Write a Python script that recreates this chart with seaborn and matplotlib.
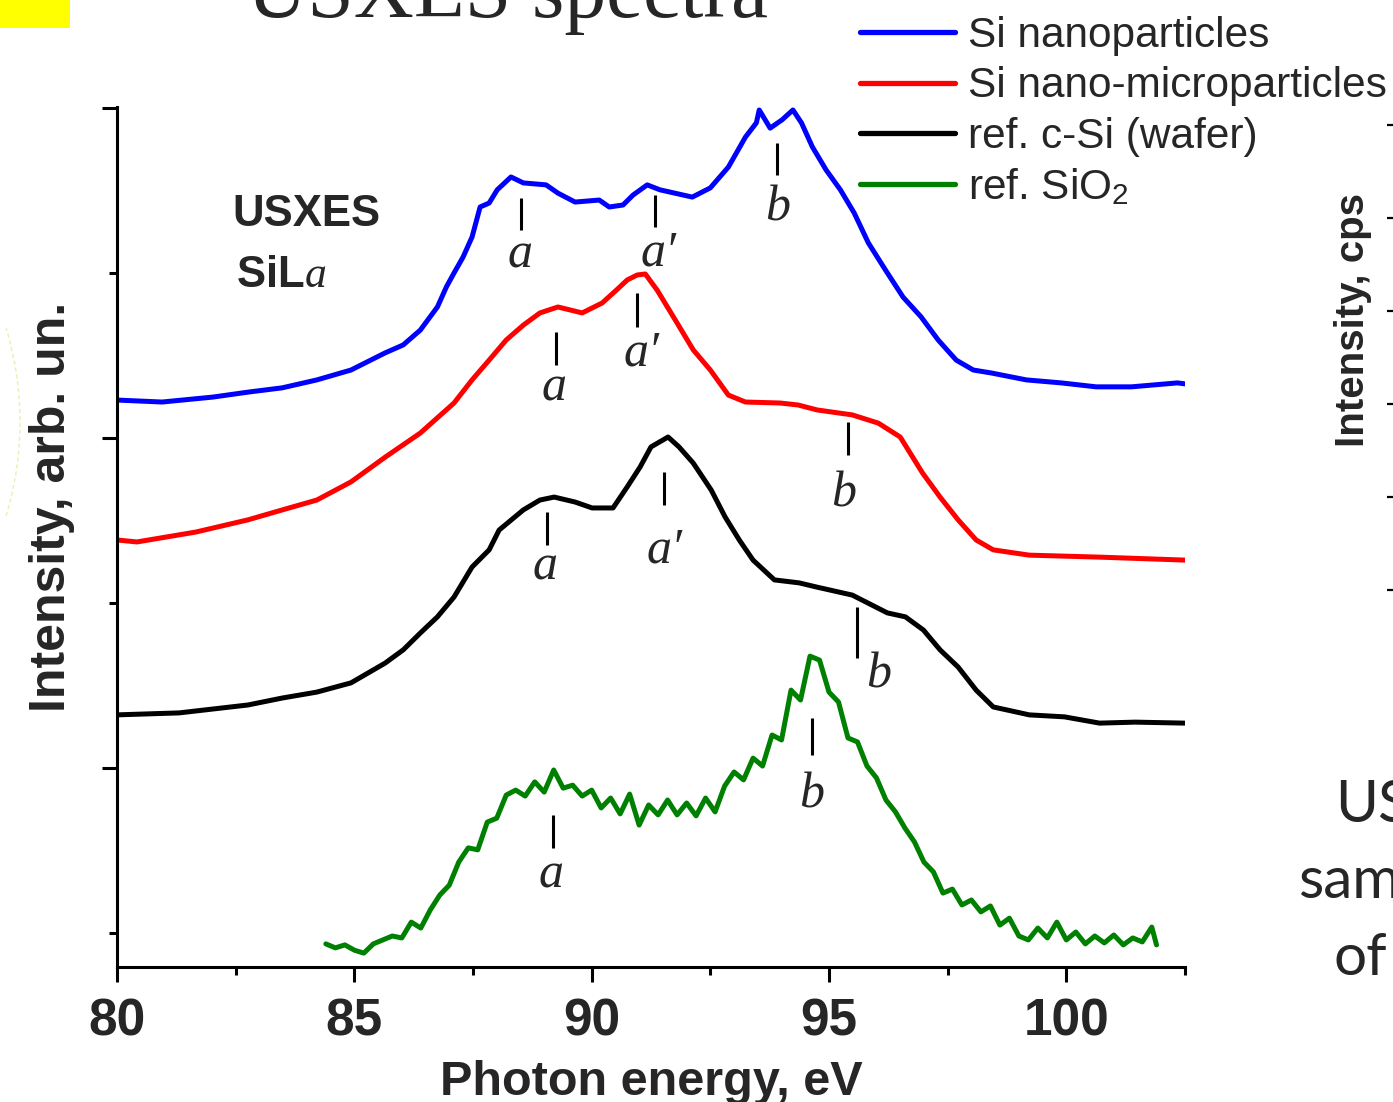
import matplotlib
matplotlib.use("Agg")
import matplotlib.pyplot as plt
from matplotlib.patches import Rectangle, Arc
from matplotlib.lines import Line2D
import numpy as np
import pandas as pd
import seaborn as sns

# ---------------- data ----------------
names = ["Si nanoparticles", "Si nano-microparticles", "ref. c-Si (wafer)", r"ref. SiO$_\mathregular{2}$"]
colors = ["#0000ff", "#ff0000", "#000000", "#008000"]

nano_x = [80.00, 80.95, 82.02, 82.76, 83.48, 84.21, 84.93, 85.65, 86.03, 86.39, 86.75, 86.94, 87.10, 87.29,
          87.48, 87.65, 87.84, 88.01, 88.30, 88.56, 89.04, 89.29, 89.65, 90.16, 90.37, 90.66, 90.87, 91.17,
          91.44, 92.12, 92.50, 92.88, 93.24, 93.47, 93.53, 93.76, 94.01, 94.24, 94.42, 94.65, 94.94, 95.24,
          95.53, 95.83, 96.19, 96.56, 96.94, 97.30, 97.68, 98.04, 98.42, 99.16, 99.89, 100.63, 101.37, 102.34, 102.5]
nano_y = [211.5, 210.9, 212.4, 213.9, 215.2, 217.6, 220.6, 225.8, 228.2, 232.7, 239.7, 245.8, 250.0, 254.8,
          260.9, 270.0, 271.2, 275.2, 279.1, 277.3, 276.7, 274.2, 271.5, 272.1, 270.0, 270.6, 273.6, 276.7,
          275.2, 273.0, 275.8, 282.1, 291.2, 295.5, 299.4, 293.9, 296.4, 299.4, 295.5, 288.2, 281.2, 275.2,
          268.2, 259.1, 250.9, 242.7, 236.7, 229.7, 223.6, 220.6, 219.7, 217.6, 216.7, 215.5, 215.5, 216.7, 216.4]

micro_x = [80.00, 80.42, 81.66, 82.76, 83.48, 84.21, 84.93, 85.65, 86.39, 87.10, 87.48, 87.84, 88.20, 88.56,
           88.91, 89.29, 89.80, 90.22, 90.52, 90.75, 90.96, 91.13, 91.38, 91.76, 92.14, 92.50, 92.88, 93.24,
           93.97, 94.35, 94.75, 95.49, 96.04, 96.50, 96.97, 97.34, 97.72, 98.10, 98.46, 99.22, 100.70, 102.5]
micro_y = [169.1, 168.5, 171.5, 175.2, 178.2, 181.2, 186.7, 194.2, 201.5, 210.6, 217.6, 223.6, 229.7, 234.2,
           237.9, 239.7, 237.9, 240.9, 244.8, 247.9, 249.4, 249.7, 244.8, 235.8, 226.7, 220.6, 213.0, 210.9,
           210.6, 210.0, 208.5, 207.0, 204.5, 200.3, 189.4, 182.1, 175.2, 169.1, 166.1, 164.5, 163.9, 163.0]

wafer_x = [80.00, 81.31, 82.76, 83.48, 84.21, 84.93, 85.65, 86.03, 86.39, 86.75, 87.10, 87.48, 87.84, 88.05,
           88.56, 88.91, 89.21, 89.65, 90.01, 90.45, 90.75, 91.02, 91.25, 91.61, 91.84, 92.14, 92.52, 92.81,
           93.11, 93.40, 93.85, 94.37, 94.75, 95.49, 96.23, 96.61, 96.99, 97.34, 97.72, 98.10, 98.46, 99.22,
           99.96, 100.70, 101.45, 102.5]
wafer_y = [116.1, 116.7, 119.1, 121.2, 123.0, 125.8, 131.8, 135.8, 140.9, 145.8, 151.8, 160.9, 166.1, 172.1,
           178.2, 181.2, 182.1, 180.6, 178.8, 178.8, 185.2, 191.2, 197.3, 200.3, 197.3, 192.4, 184.2, 176.1,
           169.1, 163.0, 157.0, 156.1, 154.8, 152.4, 147.0, 145.8, 141.8, 135.8, 130.6, 123.6, 118.5, 116.1,
           115.5, 113.6, 113.9, 113.6]

sio2_x = [84.4, 84.6, 84.8, 85.0, 85.2, 85.4, 85.6, 85.8, 86.0, 86.2, 86.4, 86.6, 86.8, 87.0, 87.2, 87.4,
          87.6, 87.8, 88.0, 88.2, 88.4, 88.6, 88.8, 89.0, 89.2, 89.4, 89.6, 89.8, 90.0, 90.2, 90.4, 90.6,
          90.8, 91.0, 91.2, 91.4, 91.6, 91.8, 92.0, 92.2, 92.4, 92.6, 92.8, 93.0, 93.2, 93.4, 93.6, 93.8,
          94.0, 94.2, 94.4, 94.6, 94.8, 95.0, 95.2, 95.4, 95.6, 95.8, 96.0, 96.2, 96.4, 96.6, 96.8, 97.0,
          97.2, 97.4, 97.6, 97.8, 98.0, 98.2, 98.4, 98.6, 98.8, 99.0, 99.2, 99.4, 99.6, 99.8, 100.0, 100.2,
          100.4, 100.6, 100.8, 101.0, 101.2, 101.4, 101.6, 101.8, 101.9]
sio2_y = [46.7, 45.5, 46.4, 44.8, 43.9, 46.7, 47.9, 49.1, 48.5, 53.3, 51.5, 57.0, 61.5, 64.5, 71.5, 75.8,
          75.2, 83.6, 84.8, 91.8, 93.3, 91.5, 95.8, 92.7, 99.4, 93.9, 94.8, 91.5, 93.3, 87.9, 90.9, 86.1,
          92.1, 82.7, 88.8, 85.8, 90.3, 85.8, 89.4, 85.5, 90.9, 86.7, 94.5, 98.8, 96.4, 103.0, 100.6, 110.0,
          108.5, 123.6, 120.6, 133.9, 132.7, 123.0, 120.0, 109.1, 107.9, 100.6, 97.0, 90.3, 86.7, 81.8, 77.6, 71.5,
          68.5, 62.1, 63.3, 58.5, 60.0, 56.4, 58.2, 52.4, 54.5, 49.1, 47.9, 51.5, 48.5, 53.3, 47.9, 50.3,
          46.7, 49.1, 47.0, 49.4, 46.4, 48.5, 47.3, 51.8, 46.4]

# feature markers: energy, bar top, bar bottom, label x, label baseline, label
mark_x = [88.52, 91.34, 93.91, 89.25, 90.96, 95.41, 89.06, 91.53, 95.60, 89.19, 94.65]
mark_top = [272.7, 273.6, 289.4, 232.1, 243.9, 204.8, 177.6, 189.7, 148.8, 85.8, 115.2]
mark_bot = [263.0, 263.9, 279.7, 222.1, 233.6, 194.8, 167.6, 179.7, 133.3, 75.8, 103.9]
lab_x = [88.49, 91.40, 93.91, 89.21, 91.06, 95.30, 89.02, 91.53, 96.04, 89.15, 94.63]
lab_y = [251.8, 252.4, 265.8, 211.5, 222.1, 179.1, 157.0, 162.4, 124.5, 63.9, 87.9]
lab_t = ["a", "a\u2032", "b", "a", "a\u2032", "b", "a", "a\u2032", "b", "a", "b"]

xticks_major = [80, 85, 90, 95, 100]
xticks_minor = [82.5, 87.5, 92.5, 97.5, 102.5]
yticks_major = [100, 200, 300]
yticks_minor = [50, 150, 250]

# ---------------- figure ----------------
sns.set_style("ticks")
plt.rcParams["font.family"] = ["Liberation Sans", "DejaVu Sans"]
plt.rcParams["mathtext.fontset"] = "custom"
plt.rcParams["mathtext.it"] = "Liberation Serif:italic"
plt.rcParams["mathtext.rm"] = "Liberation Sans"

W, H = 1393, 1102
fig = plt.figure(figsize=(W / 100, H / 100), dpi=100)
fig.patch.set_facecolor("white")

ax = fig.add_axes([117 / W, 135 / H, 1068 / W, 860 / H])
ax.set_facecolor("white")

frames = []
for nm, xs, ys in zip(names, [nano_x, micro_x, wafer_x, sio2_x], [nano_y, micro_y, wafer_y, sio2_y]):
    frames.append(pd.DataFrame({"energy": xs, "intensity": ys, "sample": nm}))
df = pd.concat(frames, ignore_index=True)

sns.lineplot(data=df, x="energy", y="intensity", hue="sample", hue_order=names,
             palette=colors, estimator=None, sort=False, lw=3.6, legend=False, ax=ax)

ax.set_xlim(80, 102.5)
ax.set_ylim(39.7, 300.3)
ax.set_xticks(xticks_major)
ax.set_xticks(xticks_minor, minor=True)
ax.set_yticks(yticks_major)
ax.set_yticks(yticks_minor, minor=True)
ax.set_yticklabels([])
ax.set_xticklabels([str(v) for v in xticks_major], fontsize=37, fontweight="bold")
ax.tick_params(which="major", direction="out", length=11, width=2.2, pad=11, color="black")
ax.tick_params(which="minor", direction="out", length=6, width=2.2, color="black")
for s in ["top", "right"]:
    ax.spines[s].set_visible(False)
for s in ["left", "bottom"]:
    ax.spines[s].set_linewidth(2.2)
    ax.spines[s].set_color("black")
ax.grid(False)

ax.set_xlabel("Photon energy, eV", fontsize=35, fontweight="bold", va="baseline")
ax.xaxis.set_label_coords(0.5, (967 - 1095) / 860)
ax.set_ylabel("Intensity, arb. un.", fontsize=36, fontweight="bold", va="baseline")
ax.yaxis.set_label_coords((65 - 117) / 1068, (967 - 507) / 860)

# feature markers
for mx, t0, t1, lx, ly, lt in zip(mark_x, mark_top, mark_bot, lab_x, lab_y, lab_t):
    ax.plot([mx, mx], [t0, t1], color="black", lw=2.2, solid_capstyle="butt")
    ax.text(lx, ly, lt, ha="center", va="baseline", fontsize=36, style="italic",
            family=["Liberation Serif", "DejaVu Serif"])

ax.text((232 - 117) / 1068, (967 - 226) / 860, "USXES", transform=ax.transAxes,
        fontsize=31.5, fontweight="bold", ha="left", va="baseline")
ax.text((236 - 117) / 1068, (967 - 287) / 860, r"SiL$\mathit{a}$", transform=ax.transAxes,
        fontsize=31.5, fontweight="bold", ha="left", va="baseline")

# legend
handles = [Line2D([], [], color=c, lw=3.8) for c in colors]
ax.legend(handles, names, loc="upper left", bbox_to_anchor=(860 / W, 1 - 16 / H),
          bbox_transform=fig.transFigure, frameon=False, fontsize=30.5, handlelength=2.25,
          handletextpad=0.3, labelspacing=0.245, borderpad=0, borderaxespad=0)

# slide decorations around the chart
fig.text(247 / W, 1 - 17 / H, "USXES spectra", fontsize=60, ha="left", va="baseline",
         family=["Liberation Serif", "DejaVu Serif"])
fig.patches.append(Rectangle((0, 1 - 28 / H), 70 / W, 28 / H, transform=fig.transFigure,
                             facecolor="#ffff00", edgecolor="none"))
arc = Arc((-303 / W, 1 - 422 / H), 646 / W, 646 / H, theta1=-21, theta2=21,
          transform=fig.transFigure, color="#eeeeb0", lw=1, ls=(0, (3, 2)))
fig.add_artist(arc)

fig.text(1353 / W, 1 - 320 / H, "Intensity, cps", rotation=90, fontsize=29, fontweight="bold",
         ha="center", va="center")
ax2 = fig.add_axes([1394 / W, (H - 700) / H, 0.3, 600 / H])
ax2.set_ylim(-110 / 93, 490 / 93)
ax2.set_yticks([0, 1, 2, 3, 4, 5])
ax2.set_yticklabels([])
ax2.set_xticks([])
for s in ax2.spines.values():
    s.set_visible(False)
ax2.patch.set_visible(False)
ax2.tick_params(axis="y", direction="out", length=5, width=1.6, color="black")

for txt, x0, yb in [("US", 1335, 822), ("sam", 1298, 898), ("of", 1333, 975)]:
    fig.text(x0 / W, 1 - yb / H, txt, fontsize=42, ha="left", va="baseline",
             family=["Lato", "DejaVu Sans"])

fig.savefig("out.png", dpi=100)
